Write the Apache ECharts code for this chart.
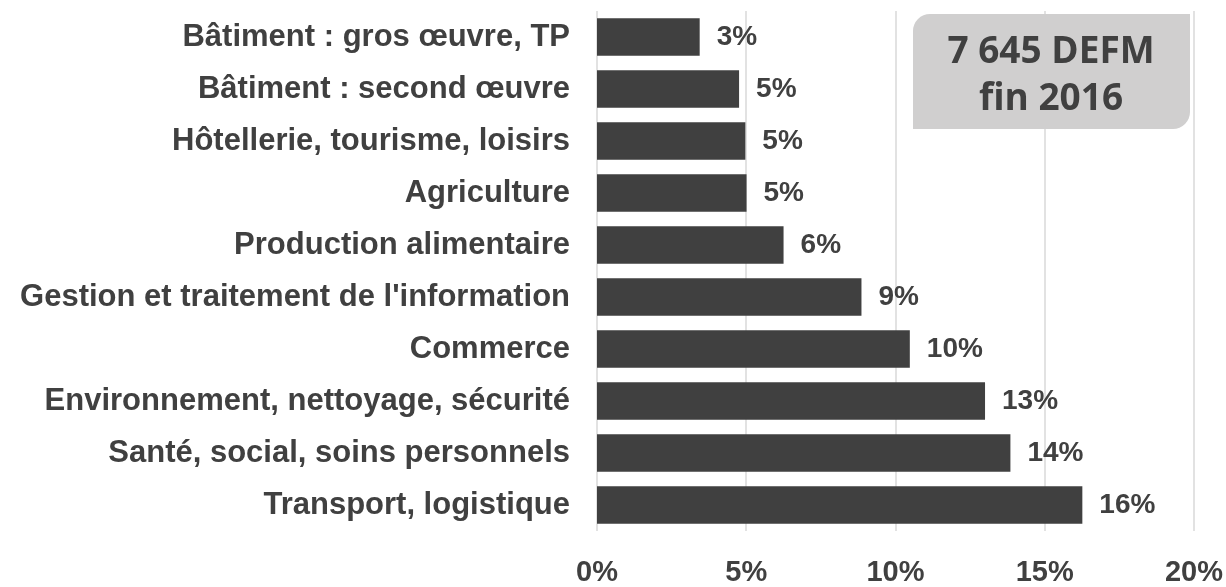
<!DOCTYPE html>
<html>
<head>
<meta charset="utf-8">
<style>
  html, body { margin: 0; padding: 0; background: #fff; }
  #chart { width: 1226px; height: 587px; }
</style>
<script src="https://cdn.jsdelivr.net/npm/echarts@6/dist/echarts.min.js"></script>
</head>
<body>
<div id="chart"></div>
<script>
  // catégories du haut vers le bas (ordre du graphique)
  const categories = [
    'Bâtiment : gros œuvre, TP',
    'Bâtiment : second œuvre',
    'Hôtellerie, tourisme, loisirs',
    'Agriculture',
    'Production alimentaire',
    "Gestion et traitement de l'information",
    'Commerce',
    'Environnement, nettoyage, sécurité',
    'Santé, social, soins personnels',
    'Transport, logistique'
  ]
  // part des DEFM en %
  const values = [3.44, 4.76, 4.97, 5.01, 6.25, 8.86, 10.48, 13.0, 13.85, 16.26]
  const xTicks = [0, 5, 10, 15, 20]
  const boxLines = ['7 645 DEFM', 'fin 2016']

  const textColor = '#404040'
  const barColor = '#404040'
  const font = 'Liberation Sans'

  const chart = echarts.init(document.getElementById('chart'))
  chart.setOption({
    animation: false,
    grid: { left: 597, right: 29, top: 11, bottom: 55 },
    xAxis: {
      type: 'value',
      min: xTicks[0],
      max: xTicks[xTicks.length - 1],
      interval: 5,
      axisLine: { show: false },
      axisTick: { show: false },
      splitLine: { lineStyle: { color: '#d9d9d9', width: 1.5 } },
      axisLabel: {
        margin: 27,
        color: textColor,
        fontFamily: font,
        fontWeight: 'bold',
        fontSize: 29,
        formatter: v => v + '%'
      }
    },
    yAxis: {
      type: 'category',
      inverse: true,
      data: categories,
      axisLine: { show: false },
      axisTick: { show: false },
      axisLabel: {
        margin: 27,
        color: textColor,
        fontFamily: font,
        fontWeight: 'bold',
        fontSize: 31
      }
    },
    series: [
      {
        type: 'bar',
        data: values,
        barCategoryGap: '28%',
        itemStyle: { color: barColor },
        label: {
          show: true,
          position: 'right',
          distance: 17,
          color: textColor,
          fontFamily: font,
          fontWeight: 'bold',
          fontSize: 28,
          formatter: p => Math.round(p.value) + '%'
        }
      }
    ],
    graphic: [
      {
        type: 'group',
        left: 913,
        top: 14,
        z: 100,
        children: [
          {
            type: 'rect',
            z: 100,
            shape: { x: 0, y: 0, width: 277, height: 115, r: [17, 0, 17, 0] },
            style: { fill: '#d0cfcf' }
          },
          {
            type: 'text',
            z: 101,
            x: 138,
            y: 38,
            style: {
              text: boxLines[0],
              align: 'center',
              verticalAlign: 'middle',
              fill: textColor,
              font: 'bold 37px "Open Sans"'
            }
          },
          {
            type: 'text',
            z: 101,
            x: 138,
            y: 85,
            style: {
              text: boxLines[1],
              align: 'center',
              verticalAlign: 'middle',
              fill: textColor,
              font: 'bold 37px "Open Sans"'
            }
          }
        ]
      }
    ]
  })
</script>
</body>
</html>
